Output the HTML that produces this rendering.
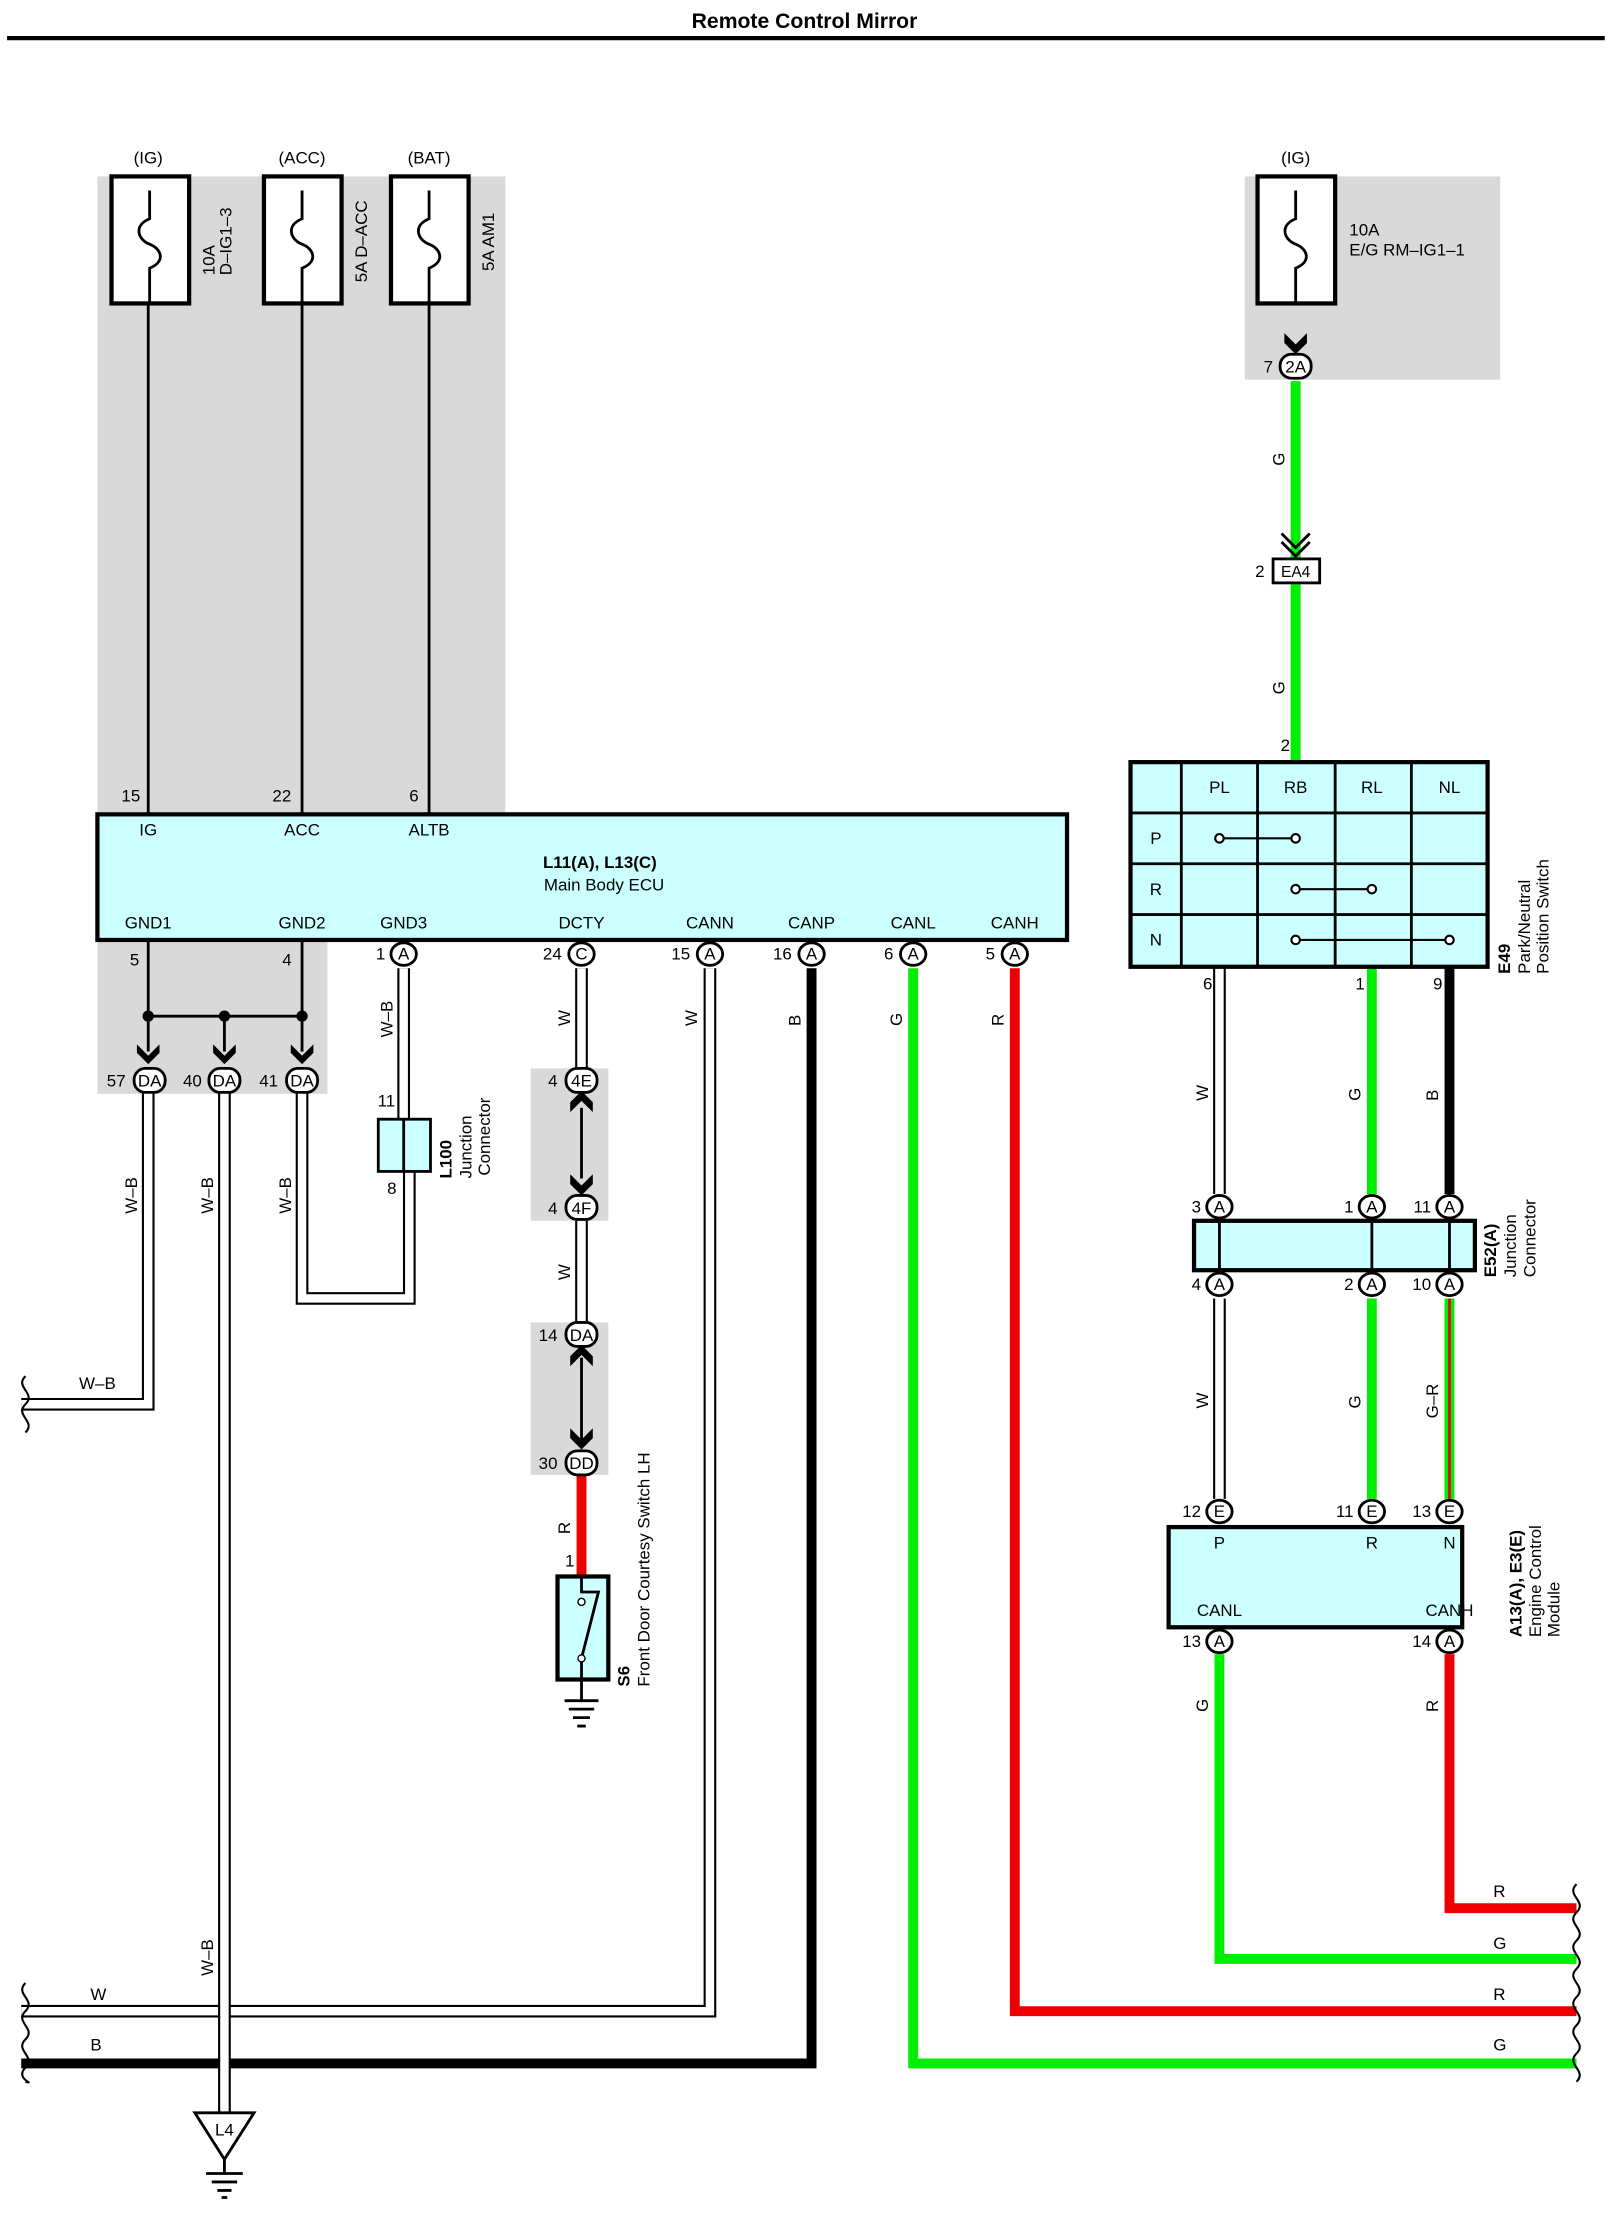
<!DOCTYPE html>
<html><head><meta charset="utf-8"><style>
html,body{margin:0;padding:0;background:#fff;}
svg{display:block;}
text{font-family:"Liberation Sans",sans-serif;font-size:12px;fill:#000;}
.b{font-weight:bold;}
</style></head><body>
<svg width="1609" height="2213" viewBox="0 0 1140 1568" xmlns="http://www.w3.org/2000/svg">
<defs>
<g id="fuse"><rect x="-27" y="0" width="55" height="90" fill="#fff" stroke="#000" stroke-width="3"/><path d="M0 10 V30 C-12 35 -8 45 0 48 C8 51 12 60 0 65 V90" fill="none" stroke="#000" stroke-width="2"/></g>
<g id="chev"><path d="M-8 -12 L0 -4 L8 -12 L8 -6 L0 2 L-8 -6Z" fill="#000"/></g>
</defs>
<text x="570" y="20" text-anchor="middle" class="b" font-size="15" style="font-size:15px">Remote Control Mirror</text>
<line x1="5" y1="27" x2="1137" y2="27" stroke="#000" stroke-width="3"/>
<rect x="69" y="125" width="289" height="452" fill="#d9d9d9"/>
<rect x="69" y="666" width="163" height="109" fill="#d9d9d9"/>
<rect x="882" y="125" width="181" height="144" fill="#d9d9d9"/>
<rect x="376" y="757" width="55" height="108" fill="#d9d9d9"/>
<rect x="376" y="937" width="55" height="108" fill="#d9d9d9"/>
<text x="105" y="116" text-anchor="middle">(IG)</text>
<text x="214" y="116" text-anchor="middle">(ACC)</text>
<text x="304" y="116" text-anchor="middle">(BAT)</text>
<text x="918" y="116" text-anchor="middle">(IG)</text>
<use href="#fuse" x="106" y="125"/><use href="#fuse" x="214" y="125"/><use href="#fuse" x="304" y="125"/><use href="#fuse" x="918" y="125"/>
<text transform="translate(152,195) rotate(-90)">10A</text>
<text transform="translate(164,195) rotate(-90)">D–IG1–3</text>
<text transform="translate(260,200) rotate(-90)">5A D–ACC</text>
<text transform="translate(350,192) rotate(-90)">5A AM1</text>
<text x="956" y="167">10A</text><text x="956" y="181">E/G RM–IG1–1</text>
<line x1="105" y1="215" x2="105" y2="577" stroke="#000" stroke-width="2"/>
<line x1="214" y1="215" x2="214" y2="577" stroke="#000" stroke-width="2"/>
<line x1="304" y1="215" x2="304" y2="577" stroke="#000" stroke-width="2"/>
<text x="86" y="568">15</text><text x="193" y="568">22</text><text x="290" y="568">6</text>
<rect x="69" y="577" width="687" height="89" fill="#ccffff" stroke="#000" stroke-width="3"/>
<text x="105" y="592" text-anchor="middle">IG</text><text x="214" y="592" text-anchor="middle">ACC</text><text x="304" y="592" text-anchor="middle">ALTB</text>
<text x="425" y="615" text-anchor="middle" class="b">L11(A), L13(C)</text>
<text x="428" y="631" text-anchor="middle">Main Body ECU</text>
<text x="105" y="658" text-anchor="middle">GND1</text><text x="214" y="658" text-anchor="middle">GND2</text><text x="286" y="658" text-anchor="middle">GND3</text>
<text x="412" y="658" text-anchor="middle">DCTY</text><text x="503" y="658" text-anchor="middle">CANN</text><text x="575" y="658" text-anchor="middle">CANP</text>
<text x="647" y="658" text-anchor="middle">CANL</text><text x="719" y="658" text-anchor="middle">CANH</text>
<path d="M105 666 V745 M214 666 V745 M159 720 V745 M105 720 H214" stroke="#000" stroke-width="2" fill="none"/>
<circle cx="105" cy="720" r="4"/><circle cx="159" cy="720" r="4"/><circle cx="214" cy="720" r="4"/>
<text x="92" y="684">5</text><text x="200" y="684">4</text>
<use href="#chev" x="105" y="752"/><use href="#chev" x="159" y="752"/><use href="#chev" x="214" y="752"/>
<g fill="none" stroke="#000" stroke-width="9">
<path d="M105 774 V995 H15"/><path d="M214 774 V920 H290 V830"/><path d="M286 686 V793"/>
<path d="M412 686 V757"/><path d="M412 865 V937"/><path d="M503 686 V1425 H15"/><path d="M864 685 V846"/><path d="M864 920 V1062"/>
</g>
<g fill="none" stroke="#fff" stroke-width="6">
<path d="M105 774 V995 H15"/><path d="M214 774 V920 H290 V830"/><path d="M286 686 V793"/>
<path d="M412 686 V757"/><path d="M412 865 V937"/><path d="M503 686 V1425 H15"/><path d="M864 685 V846"/><path d="M864 920 V1062"/>
</g>
<g fill="none" stroke-width="7">
<path d="M575 686 V1462 H15" stroke="#000"/>
<path d="M647 686 V1462 H1117" stroke="#00ee00"/>
<path d="M719 686 V1425 H1117" stroke="#ee0000"/>
<path d="M864 1172 V1388 H1117" stroke="#00ee00"/>
<path d="M1027 1172 V1352 H1117" stroke="#ee0000"/>
<path d="M412 1045 V1117" stroke="#ee0000"/>
<path d="M918 270 V395 M918 414 V540" stroke="#00ee00"/>
<path d="M972 685 V846 M972 920 V1062" stroke="#00ee00"/>
<path d="M1027 685 V846" stroke="#000"/>
<path d="M1027 920 V1062" stroke="#00ee00"/>
</g>
<line x1="1027" y1="920" x2="1027" y2="1062" stroke="#ee0000" stroke-width="2"/>
<path d="M159 774 V1497" fill="none" stroke="#000" stroke-width="9"/>
<path d="M159 774 V1497" fill="none" stroke="#fff" stroke-width="6"/>
<g fill="none" stroke="#000" stroke-width="1.5">
<path d="M18 975 c-8 8 8 12 0 20 c-8 8 8 12 0 20"/>
<path d="M18 1405 c-8 8 8 12 0 20 c-8 8 8 12 0 20 c-8 8 8 12 0 20 c-8 8 8 12 0 10"/>
<path d="M1117 1335 c-8 8 8 12 0 20 c-8 8 8 12 0 20 c-8 8 8 12 0 20 c-8 8 8 12 0 20 c-8 8 8 12 0 20 c-8 8 8 12 0 20 c-8 8 8 12 0 20"/>
</g>
<g>
<text transform="translate(97,860) rotate(-90)">W–B</text>
<text transform="translate(151,860) rotate(-90)">W–B</text>
<text transform="translate(206,860) rotate(-90)">W–B</text>
<text transform="translate(278,735) rotate(-90)">W–B</text>
<text transform="translate(151,1400) rotate(-90)">W–B</text>
<text x="56" y="984">W–B</text>
<text transform="translate(404,727) rotate(-90)">W</text>
<text transform="translate(404,907) rotate(-90)">W</text>
<text transform="translate(494,727) rotate(-90)">W</text>
<text transform="translate(567,727) rotate(-90)">B</text>
<text transform="translate(639,727) rotate(-90)">G</text>
<text transform="translate(711,727) rotate(-90)">R</text>
<text transform="translate(404,1087) rotate(-90)">R</text>
<text x="64" y="1417">W</text><text x="64" y="1453">B</text>
<text x="1058" y="1344">R</text><text x="1058" y="1381">G</text><text x="1058" y="1417">R</text><text x="1058" y="1453">G</text>
<text transform="translate(910,330) rotate(-90)">G</text>
<text transform="translate(910,492) rotate(-90)">G</text>
<text transform="translate(856,780) rotate(-90)">W</text>
<text transform="translate(964,780) rotate(-90)">G</text>
<text transform="translate(1019,780) rotate(-90)">B</text>
<text transform="translate(856,998) rotate(-90)">W</text>
<text transform="translate(964,998) rotate(-90)">G</text>
<text transform="translate(1019,1005) rotate(-90)">G–R</text>
<text transform="translate(856,1213) rotate(-90)">G</text>
<text transform="translate(1019,1213) rotate(-90)">R</text>
</g>
<g stroke="#000" stroke-width="2" fill="#fff">
<ellipse cx="286" cy="676" rx="9" ry="8"/><ellipse cx="412" cy="676" rx="9" ry="8"/><ellipse cx="503" cy="676" rx="9" ry="8"/>
<ellipse cx="575" cy="676" rx="9" ry="8"/><ellipse cx="647" cy="676" rx="9" ry="8"/><ellipse cx="719" cy="676" rx="9" ry="8"/>
<rect x="95" y="757" width="22" height="17" rx="8"/><rect x="148" y="757" width="22" height="17" rx="8"/><rect x="203" y="757" width="22" height="17" rx="8"/>
<rect x="401" y="757" width="22" height="17" rx="8"/><rect x="401" y="847" width="22" height="17" rx="8"/>
<rect x="401" y="937" width="22" height="17" rx="8"/><rect x="401" y="1028" width="22" height="17" rx="8"/>
<rect x="907" y="251" width="22" height="17" rx="8"/>
<ellipse cx="864" cy="855" rx="9" ry="8"/><ellipse cx="972" cy="855" rx="9" ry="8"/><ellipse cx="1027" cy="855" rx="9" ry="8"/>
<ellipse cx="864" cy="910" rx="9" ry="8"/><ellipse cx="972" cy="910" rx="9" ry="8"/><ellipse cx="1027" cy="910" rx="9" ry="8"/>
<ellipse cx="864" cy="1071" rx="9" ry="8"/><ellipse cx="972" cy="1071" rx="9" ry="8"/><ellipse cx="1027" cy="1071" rx="9" ry="8"/>
<ellipse cx="864" cy="1163" rx="9" ry="8"/><ellipse cx="1027" cy="1163" rx="9" ry="8"/>
</g>
<g font-size="11" style="font-size:11px" text-anchor="middle">
<text x="286" y="680">A</text><text x="412" y="680">C</text><text x="503" y="680">A</text><text x="575" y="680">A</text><text x="647" y="680">A</text><text x="719" y="680">A</text>
<text x="106" y="770">DA</text><text x="159" y="770">DA</text><text x="214" y="770">DA</text>
<text x="412" y="770">4E</text><text x="412" y="860">4F</text><text x="412" y="950">DA</text><text x="412" y="1041">DD</text>
<text x="918" y="264">2A</text>
<text x="864" y="859">A</text><text x="972" y="859">A</text><text x="1027" y="859">A</text>
<text x="864" y="914">A</text><text x="972" y="914">A</text><text x="1027" y="914">A</text>
<text x="864" y="1075">E</text><text x="972" y="1075">E</text><text x="1027" y="1075">E</text>
<text x="864" y="1167">A</text><text x="1027" y="1167">A</text>
</g>
<g text-anchor="end">
<text x="273" y="680">1</text><text x="398" y="680">24</text><text x="489" y="680">15</text><text x="561" y="680">16</text><text x="633" y="680">6</text><text x="705" y="680">5</text>
<text x="89" y="770">57</text><text x="143" y="770">40</text><text x="197" y="770">41</text>
<text x="395" y="770">4</text><text x="395" y="860">4</text><text x="395" y="950">14</text><text x="395" y="1041">30</text>
<text x="902" y="264">7</text><text x="896" y="409">2</text><text x="914" y="532">2</text>
<text x="280" y="784">11</text><text x="281" y="846">8</text><text x="407" y="1110">1</text>
<text x="851" y="859">3</text><text x="959" y="859">1</text><text x="1014" y="859">11</text>
<text x="851" y="914">4</text><text x="959" y="914">2</text><text x="1014" y="914">10</text>
<text x="851" y="1075">12</text><text x="959" y="1075">11</text><text x="1014" y="1075">13</text>
<text x="851" y="1167">13</text><text x="1014" y="1167">14</text>
<text x="859" y="701">6</text><text x="967" y="701">1</text><text x="1022" y="701">9</text>
</g>
<line x1="412" y1="785" x2="412" y2="835" stroke="#000" stroke-width="2"/>
<path d="M404 788 L412 780 L420 788 L420 781 L412 773 L404 781Z"/><path d="M404 832 L412 840 L420 832 L420 839 L412 847 L404 839Z"/>
<line x1="412" y1="962" x2="412" y2="1020" stroke="#000" stroke-width="2"/>
<path d="M404 968 L412 960 L420 968 L420 961 L412 953 L404 961Z"/><path d="M404 1012 L412 1020 L420 1012 L420 1019 L412 1027 L404 1019Z"/>
<path d="M910 236 L918 244 L926 236 L926 243 L918 251 L910 243Z"/>
<path d="M908 378 L918 388 L928 378 M908 384 L918 394 L928 384" fill="none" stroke="#000" stroke-width="2"/>
<rect x="902" y="396" width="33" height="17" fill="#fff" stroke="#000" stroke-width="2"/>
<text x="918" y="409" text-anchor="middle" font-size="11" style="font-size:11px">EA4</text>
<rect x="268" y="793" width="37" height="37" fill="#ccffff" stroke="#000" stroke-width="2"/>
<line x1="286" y1="793" x2="286" y2="830" stroke="#000" stroke-width="2"/>
<text transform="translate(320,835) rotate(-90)" class="b">L100</text>
<text transform="translate(334,835) rotate(-90)">Junction</text>
<text transform="translate(347,833) rotate(-90)">Connector</text>
<rect x="395" y="1117" width="36" height="73" fill="#ccffff" stroke="#000" stroke-width="3"/>
<path d="M412 1117 V1128 L424 1128 L412 1175 V1205 M400 1205 H424 M403 1211 H421 M406 1217 H418 M409 1223 H415" fill="none" stroke="#000" stroke-width="2"/>
<circle cx="412" cy="1135" r="2.5" fill="#fff" stroke="#000"/><circle cx="412" cy="1175" r="2.5" fill="#fff" stroke="#000"/>
<text transform="translate(446,1195) rotate(-90)" class="b">S6</text>
<text transform="translate(460,1195) rotate(-90)">Front Door Courtesy Switch LH</text>
<path d="M138 1497 H180 L159 1530 Z" fill="#fff" stroke="#000" stroke-width="2"/>
<text x="159" y="1513" text-anchor="middle">L4</text>
<path d="M159 1530 V1540 M146 1540 H172 M150 1546 H168 M154 1552 H164 M157 1557 H161" stroke="#000" stroke-width="2" fill="none"/>
<rect x="801" y="540" width="253" height="145" fill="#ccffff" stroke="#000" stroke-width="3"/>
<path d="M837 540 V685 M891 540 V685 M946 540 V685 M1000 540 V685 M801 576 H1054 M801 612 H1054 M801 648 H1054" stroke="#000" stroke-width="2" fill="none"/>
<text x="864" y="562" text-anchor="middle">PL</text><text x="918" y="562" text-anchor="middle">RB</text><text x="972" y="562" text-anchor="middle">RL</text><text x="1027" y="562" text-anchor="middle">NL</text>
<text x="819" y="598" text-anchor="middle">P</text><text x="819" y="634" text-anchor="middle">R</text><text x="819" y="670" text-anchor="middle">N</text>
<path d="M864 594 H918 M918 630 H972 M918 666 H1027" stroke="#000" stroke-width="1.5"/>
<g fill="#fff" stroke="#000" stroke-width="1.5"><circle cx="864" cy="594" r="3"/><circle cx="918" cy="594" r="3"/><circle cx="918" cy="630" r="3"/><circle cx="972" cy="630" r="3"/><circle cx="918" cy="666" r="3"/><circle cx="1027" cy="666" r="3"/></g>
<text transform="translate(1070,690) rotate(-90)" class="b">E49</text>
<text transform="translate(1084,690) rotate(-90)">Park/Neutral</text>
<text transform="translate(1097,690) rotate(-90)">Position Switch</text>
<rect x="846" y="865" width="199" height="35" fill="#ccffff" stroke="#000" stroke-width="3"/>
<path d="M864 865 V900 M972 865 V900 M1027 865 V900" stroke="#000" stroke-width="2"/>
<text transform="translate(1060,905) rotate(-90)" class="b">E52(A)</text>
<text transform="translate(1074,905) rotate(-90)">Junction</text>
<text transform="translate(1088,905) rotate(-90)">Connector</text>
<rect x="828" y="1082" width="208" height="71" fill="#ccffff" stroke="#000" stroke-width="3"/>
<text x="864" y="1097" text-anchor="middle">P</text><text x="972" y="1097" text-anchor="middle">R</text><text x="1027" y="1097" text-anchor="middle">N</text>
<text x="864" y="1145" text-anchor="middle">CANL</text><text x="1027" y="1145" text-anchor="middle">CANH</text>
<text transform="translate(1078,1160) rotate(-90)" class="b">A13(A), E3(E)</text>
<text transform="translate(1092,1160) rotate(-90)">Engine Control</text>
<text transform="translate(1105,1160) rotate(-90)">Module</text>
</svg>
</body></html>
